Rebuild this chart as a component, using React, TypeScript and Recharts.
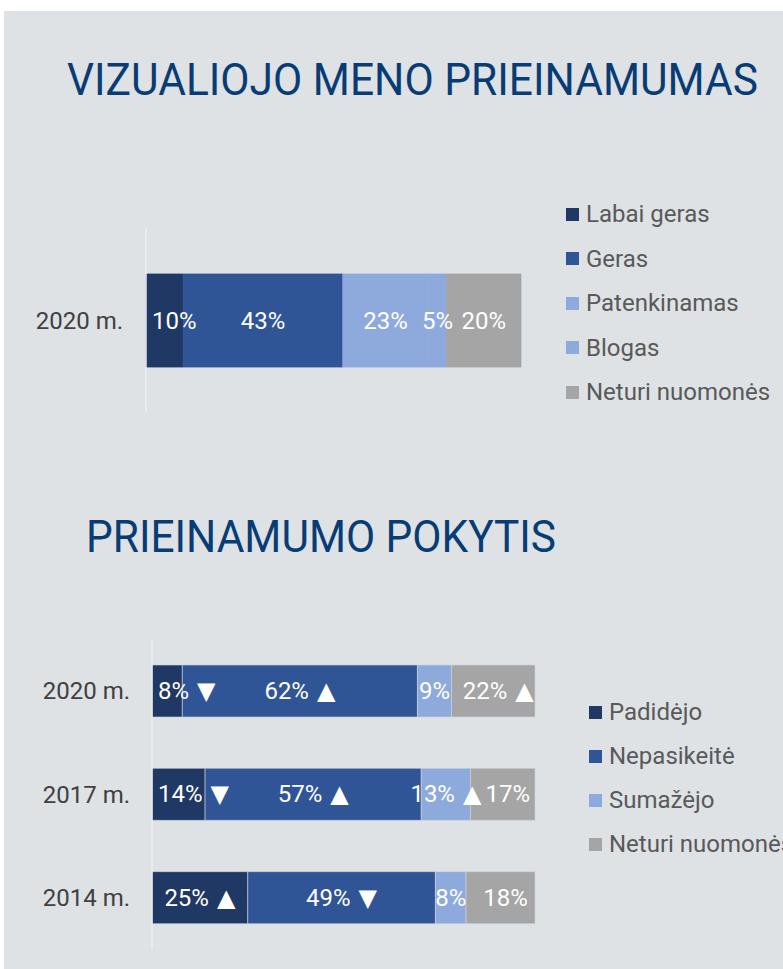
import { BarChart, Bar, XAxis, YAxis, LabelList } from 'recharts';

// --- data: visual art accessibility (2020) ---
const accessCategories = ['2020 m.'];
const labaiGeras = [10];
const geras = [43];
const patenkinamas = [23];
const blogas = [5];
const neturiNuomones = [20];

// --- data: change in accessibility ---
const changeCategories = ['2020 m.', '2017 m.', '2014 m.'];
const padidejo = [8, 14, 25];
const nepasikeite = [62, 57, 49];
const sumazejo = [9, 13, 8];
const neturiNuomones2 = [22, 17, 18];
// trend arrows shown next to each value
const padidejoTrend = ['▼', '▼', '▲'];
const nepasikeiteTrend = ['▲', '▲', '▼'];
const sumazejoTrend = ['', '▲', ''];
const neturiTrend = ['▲', '', ''];

const DARK = '#1f3864';
const MID = '#2f5597';
const LIGHT = '#8eaadc';
const GREY = '#a5a5a5';
const FONT = "Roboto, 'DejaVu Sans', sans-serif";
const ARROW_GAP = 2;

const accessSeries = [
  { key: 'labaiGeras', name: 'Labai geras', color: DARK, values: labaiGeras },
  { key: 'geras', name: 'Geras', color: MID, values: geras },
  { key: 'patenkinamas', name: 'Patenkinamas', color: LIGHT, values: patenkinamas },
  { key: 'blogas', name: 'Blogas', color: LIGHT, values: blogas },
  { key: 'neturi', name: 'Neturi nuomonės', color: GREY, values: neturiNuomones },
];

const changeSeries = [
  { key: 'padidejo', name: 'Padidėjo', color: DARK, values: padidejo, trend: padidejoTrend },
  { key: 'nepasikeite', name: 'Nepasikeitė', color: MID, values: nepasikeite, trend: nepasikeiteTrend },
  { key: 'sumazejo', name: 'Sumažėjo', color: LIGHT, values: sumazejo, trend: sumazejoTrend },
  { key: 'neturi', name: 'Neturi nuomonės', color: GREY, values: neturiNuomones2, trend: neturiTrend },
];

const accessData = accessCategories.map((cat, i) => {
  const row: Record<string, string | number> = { cat };
  accessSeries.forEach((s) => (row[s.key] = s.values[i]));
  return row;
});

const changeData = changeCategories.map((cat, i) => {
  const row: Record<string, string | number> = { cat };
  changeSeries.forEach((s) => (row[s.key] = s.values[i]));
  return row;
});

// rough text width for Roboto, used to keep the first label off the axis
function textWidth(str: string, size: number) {
  let w = 0;
  for (const ch of str) {
    if (ch === '%') w += 0.733;
    else if (ch === ' ') w += 0.248;
    else if (ch === '▲' || ch === '▼') w += 0.77;
    else w += 0.5615;
  }
  return w * size;
}

function makeLabel(first: boolean, trend?: string[], shift = 0) {
  // eslint-disable-next-line @typescript-eslint/no-explicit-any
  return (props: any) => {
    const { x, y, width, height, value, index } = props;
    const arrow = trend ? trend[index] : '';
    const main = arrow ? `${value}% ` : `${value}%`;
    const w = textWidth(main + arrow, 24) + (arrow ? ARROW_GAP : 0);
    let left = x + width / 2 - w / 2 + shift;
    if (first && left < x + 6) left = x + 6;
    return (
      <text
        x={left}
        y={y + height / 2}
        fill="#ffffff"
        fontSize={24}
        fontFamily={FONT}
        textAnchor="start"
        dominantBaseline="central"
      >
        {main}
        {arrow && <tspan dx={ARROW_GAP}>{arrow}</tspan>}
      </text>
    );
  };
}

function SideLegend({
  items,
  left,
  top,
  step,
}: {
  items: { name: string; color: string }[];
  left: number;
  top: number;
  step: number;
}) {
  return (
    <div style={{ position: 'absolute', left, top: top - step / 2, whiteSpace: 'nowrap' }}>
      {items.map((it) => (
        <div key={it.name} style={{ height: step, display: 'flex', alignItems: 'center' }}>
          <span style={{ width: 13, height: 13, background: it.color, marginRight: 7, flex: 'none' }} />
          <span style={{ fontFamily: FONT, fontSize: 24, color: '#595959' }}>{it.name}</span>
        </div>
      ))}
    </div>
  );
}

export default function App() {
  return (
    <div
      style={{
        position: 'absolute',
        left: 4,
        top: 11,
        width: 779,
        height: 958,
        background: '#dee2e5',
        overflow: 'hidden',
      }}
    >
      <svg width={779} height={600} style={{ position: 'absolute', left: 0, top: 0 }}>
        <text x={63} y={84} fill="#083c74" fontSize={44} fontFamily={FONT} textLength={691} lengthAdjust="spacingAndGlyphs">
          VIZUALIOJO MENO PRIEINAMUMAS
        </text>
        <text x={82} y={541} fill="#083c74" fontSize={44} fontFamily={FONT} textLength={470} lengthAdjust="spacingAndGlyphs">
          PRIEINAMUMO POKYTIS
        </text>
      </svg>

      <div style={{ position: 'absolute', left: 0, top: 207 }}>
        <BarChart
          width={779}
          height={204}
          data={accessData}
          layout="vertical"
          stackOffset="expand"
          barSize={93}
          margin={{ top: 10, bottom: 10, left: 0, right: 262 }}
        >
          <XAxis type="number" hide domain={[0, 1]} />
          <YAxis
            type="category"
            dataKey="cat"
            width={142}
            axisLine={{ stroke: '#eceef0', strokeWidth: 1.5 }}
            tickLine={false}
            tickMargin={17}
            tick={{ fill: '#404040', fontSize: 24, fontFamily: FONT }}
          />
          {accessSeries.map((s, i) => (
            <Bar
              key={s.key}
              dataKey={s.key}
              name={s.name}
              stackId="a"
              fill={s.color}
              stroke={s.color}
              strokeWidth={0.8}
              isAnimationActive={false}
            >
              <LabelList dataKey={s.key} content={makeLabel(i === 0)} />
            </Bar>
          ))}
        </BarChart>
      </div>
      <SideLegend items={accessSeries} left={562} top={203} step={44.5} />

      <div style={{ position: 'absolute', left: 0, top: 618 }}>
        <BarChart
          width={779}
          height={330}
          data={changeData}
          layout="vertical"
          stackOffset="expand"
          barSize={52}
          margin={{ top: 10, bottom: 10, left: 0, right: 248 }}
        >
          <XAxis type="number" hide domain={[0, 1]} />
          <YAxis
            type="category"
            dataKey="cat"
            width={148}
            axisLine={{ stroke: '#eceef0', strokeWidth: 1.5 }}
            tickLine={false}
            tickMargin={16}
            tick={{ fill: '#404040', fontSize: 24, fontFamily: FONT }}
          />
          {changeSeries.map((s, i) => (
            <Bar
              key={s.key}
              dataKey={s.key}
              name={s.name}
              stackId="a"
              fill={s.color}
              stroke="#cfd5de"
              strokeWidth={0.6}
              isAnimationActive={false}
            >
              <LabelList
                dataKey={s.key}
                content={makeLabel(i === 0, s.trend, i === changeSeries.length - 1 ? 5 : 0)}
              />
            </Bar>
          ))}
        </BarChart>
      </div>
      <SideLegend items={changeSeries} left={585} top={701} step={44} />
    </div>
  );
}
